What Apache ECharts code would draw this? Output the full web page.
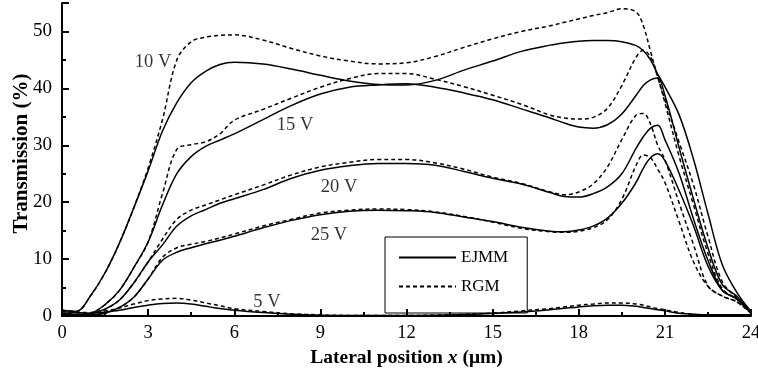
<!DOCTYPE html>
<html>
<head>
<meta charset="utf-8">
<script src="https://cdn.jsdelivr.net/npm/echarts@6/dist/echarts.min.js"></script>
<style>
  html, body { margin: 0; padding: 0; background: #fff; }
  #main { width: 758px; height: 374px; }
</style>
</head>
<body>
<div id="main"></div>
<script>
// lateral position (um), shared by every curve
const xPos = [0, 0.5, 1, 1.5, 2, 2.5, 3, 3.5, 4, 4.5, 5, 5.5, 6, 7, 8, 9, 10, 11, 12, 13, 14, 15, 16, 17,
  17.5, 18, 18.5, 19, 19.5, 20, 20.25, 20.5, 20.75, 21, 21.5, 22, 22.5, 23, 23.5, 24];

// transmission (%) - EJMM (solid) and RGM (dashed)
const ejmm5 = [0.8, 0.6, 0.5, 0.7, 1.0, 1.5, 1.9, 2.2, 2.3, 2.1, 1.7, 1.3, 1.0, 0.6, 0.3, 0.15, 0.1, 0.1, 0.1, 0.15, 0.25, 0.45, 0.7, 1.1,
  1.35, 1.6, 1.8, 1.9, 1.9, 1.7, 1.5, 1.3, 1.1, 0.9, 0.5, 0.3, 0.2, 0.2, 0.2, 0.2];
const rgm5 = [0.8, 0.6, 0.6, 0.9, 1.4, 2.1, 2.7, 3.0, 3.1, 2.8, 2.3, 1.8, 1.3, 0.8, 0.4, 0.2, 0.1, 0.1, 0.1, 0.15, 0.3, 0.5, 0.9, 1.3,
  1.6, 1.9, 2.1, 2.3, 2.3, 2.1, 1.9, 1.6, 1.3, 1.1, 0.6, 0.3, 0.2, 0.2, 0.2, 0.2];
const ejmm10 = [1.0, 0.8, 3.6, 7.6, 12.8, 19, 25.5, 32.5, 37.5, 41, 43, 44.2, 44.6, 44.3, 43.4, 42.3, 41.3, 40.7, 40.6, 41.4, 43.2, 44.8, 46.5, 47.6,
  48, 48.3, 48.4, 48.4, 48.2, 47.5, 46.6, 45, 42.5, 40.3, 35.3, 27.5, 18, 9, 4.2, 0.8];
const rgm10 = [1.0, 0.8, 3.6, 7.6, 12.8, 19, 26, 34.5, 45, 48.2, 49, 49.3, 49.4, 48.5, 47, 45.7, 44.8, 44.3, 44.5, 45.6, 47.2, 48.7, 50, 51,
  51.6, 52.2, 52.8, 53.3, 54, 53.4, 51, 46.5, 42, 38, 30.5, 23, 14, 6, 3.2, 0.6];
const ejmm15 = [0.5, 0.3, 0.5, 2, 4.5, 8.5, 13, 19.5, 25, 28, 29.8, 30.9, 32, 34.5, 37, 39, 40.2, 40.6, 40.8, 40.2, 39.2, 38, 36.4, 34.8,
  33.9, 33.2, 33, 33.6, 35.5, 38.8, 40.5, 41.5, 41.8, 38.8, 29.5, 20.5, 12, 5.5, 3.5, 0.6];
const rgm15 = [0.5, 0.3, 0.5, 2, 4.5, 8.5, 13, 21.5, 29.3, 30.1, 30.6, 32, 34.4, 36.3, 38.3, 40.2, 41.7, 42.6, 42.6, 41.6, 40.3, 38.8, 37.2, 35.3,
  34.8, 34.6, 34.9, 36.5, 40.5, 45.5, 46.7, 45.5, 42, 37.5, 28, 19.5, 11, 4.8, 3, 0.6];
const ejmm20 = [0.3, 0.2, 0.4, 1.2, 2.8, 5.8, 9.5, 12.5, 15.8, 17.6, 18.7, 19.8, 20.6, 22.2, 24.2, 25.6, 26.4, 26.8, 26.8, 26.5, 25.4, 24.2, 23.2, 21.7,
  21, 20.9, 21.5, 22.7, 25, 29.5, 31.5, 33, 33.5, 31, 25, 17, 9.8, 4.5, 3, 0.5];
const rgm20 = [0.3, 0.2, 0.4, 1.2, 2.8, 5.8, 9.5, 13.5, 17, 18.6, 19.5, 20.4, 21.3, 23, 24.8, 26.2, 27, 27.5, 27.5, 26.9, 25.8, 24.4, 23.3, 21.8,
  21.3, 21.8, 23.2, 26.2, 31, 35.3, 35.6, 33.7, 30, 27.5, 19.8, 12.5, 5.3, 3.5, 2.5, 0.5];
const ejmm25 = [0.2, 0.1, 0.2, 0.5, 1.5, 3.3, 6.5, 9.8, 11.2, 12, 12.7, 13.3, 14, 15.5, 16.8, 17.8, 18.4, 18.6, 18.5, 18.2, 17.4, 16.6, 15.6, 14.9,
  14.8, 15.1, 15.8, 17.2, 19.8, 23.5, 26, 27.8, 28.5, 27.3, 22, 15.8, 8.8, 4.5, 3, 0.5];
const rgm25 = [0.2, 0.1, 0.2, 0.5, 1.5, 3.3, 6.5, 10.3, 12, 12.6, 13.1, 13.7, 14.4, 15.8, 17, 18.1, 18.6, 18.8, 18.7, 18.3, 17.5, 16.5, 15.4, 14.8,
  14.7, 14.9, 15.5, 16.9, 20.5, 26.5, 28.3, 27.8, 25.8, 23.5, 16.5, 9.5, 5.2, 3.5, 2.5, 0.5];

// voltage labels: text, x, y
const voltLabels = [
  ["10 V", 3.17, 44.6],
  ["15 V", 8.12, 33.5],
  ["20 V", 9.65, 22.6],
  ["25 V", 9.3, 14.2],
  ["5 V", 7.14, 2.5],
];

const curves = [
  [ejmm5, rgm5], [ejmm10, rgm10], [ejmm15, rgm15], [ejmm20, rgm20], [ejmm25, rgm25],
];

const serif = "'Liberation Serif', 'DejaVu Serif', serif";

const series = [];
curves.forEach(([solid, dashed]) => {
  series.push({
    name: "EJMM",
    type: "line",
    smooth: 0.35,
    symbol: "none",
    itemStyle: { color: "#000" },
    lineStyle: { color: "#000", width: 1.5, type: "solid" },
    data: xPos.map((x, i) => [x, solid[i]]),
  });
  series.push({
    name: "RGM",
    type: "line",
    smooth: 0.35,
    symbol: "none",
    itemStyle: { color: "#000" },
    lineStyle: { color: "#000", width: 1.5, type: [4, 3] },
    data: xPos.map((x, i) => [x, dashed[i]]),
  });
});
// text labels next to the curves
series.push({
  type: "scatter",
  silent: true,
  symbolSize: 0,
  data: voltLabels.map((l) => [l[1], l[2], l[0]]),
  label: {
    show: true,
    position: "inside",
    formatter: (p) => p.data[2],
    color: "#000",
    fontFamily: serif,
    fontSize: 18.5,
  },
});

const chart = echarts.init(document.getElementById("main"));
chart.setOption({
  animation: false,
  grid: { left: 62, right: 7, top: 3, bottom: 58, outerBoundsMode: "none" },
  legend: {
    data: ["EJMM", "RGM"],
    orient: "vertical",
    left: 385,
    top: 237,
    padding: [12, 19, 18, 13],
    itemGap: 12,
    itemWidth: 57,
    itemHeight: 12,
    borderColor: "#000",
    borderWidth: 1,
    borderRadius: 0,
    // hide the marker dot, keep only the line sample
    itemStyle: { color: "transparent", borderColor: "transparent", borderWidth: 0 },
    textStyle: { color: "#000", fontFamily: serif, fontSize: 17 },
  },
  xAxis: {
    type: "value",
    min: 0,
    max: 24,
    interval: 3,
    name: "{b|Lateral position }{i|x}{b| (μm)}",
    nameLocation: "middle",
    nameGap: 30,
    nameTextStyle: {
      rich: {
        b: { fontFamily: serif, fontSize: 19.5, fontWeight: "bold", color: "#000" },
        i: { fontFamily: serif, fontSize: 19.5, fontWeight: "bold", fontStyle: "italic", color: "#000" },
      },
    },
    axisLine: { lineStyle: { color: "#000", width: 2 } },
    axisTick: { inside: true, length: 7, lineStyle: { color: "#000", width: 2 } },
    minorTick: { show: true, splitNumber: 2, length: 4, lineStyle: { color: "#000", width: 2 } },
    axisLabel: { color: "#000", fontFamily: serif, fontSize: 18.5, margin: 8 },
    splitLine: { show: false },
  },
  yAxis: {
    type: "value",
    min: 0,
    max: 55,
    interval: 10,
    name: "Transmission (%)",
    nameLocation: "middle",
    nameGap: 30,
    nameMoveOverlap: false,
    nameTextStyle: { fontFamily: serif, fontSize: 21, fontWeight: "bold", color: "#000", padding: [0, 0, 0, 12] },
    axisLine: { show: true, lineStyle: { color: "#000", width: 2 } },
    axisTick: { show: true, inside: true, length: 7, lineStyle: { color: "#000", width: 2 } },
    minorTick: { show: true, splitNumber: 2, length: 4, lineStyle: { color: "#000", width: 2 } },
    axisLabel: {
      color: "#000",
      fontFamily: serif,
      fontSize: 19,
      margin: 10,
      formatter: (v) => (v > 50 ? "" : v),
    },
    splitLine: { show: false },
  },
  series: series,
});
</script>
</body>
</html>
